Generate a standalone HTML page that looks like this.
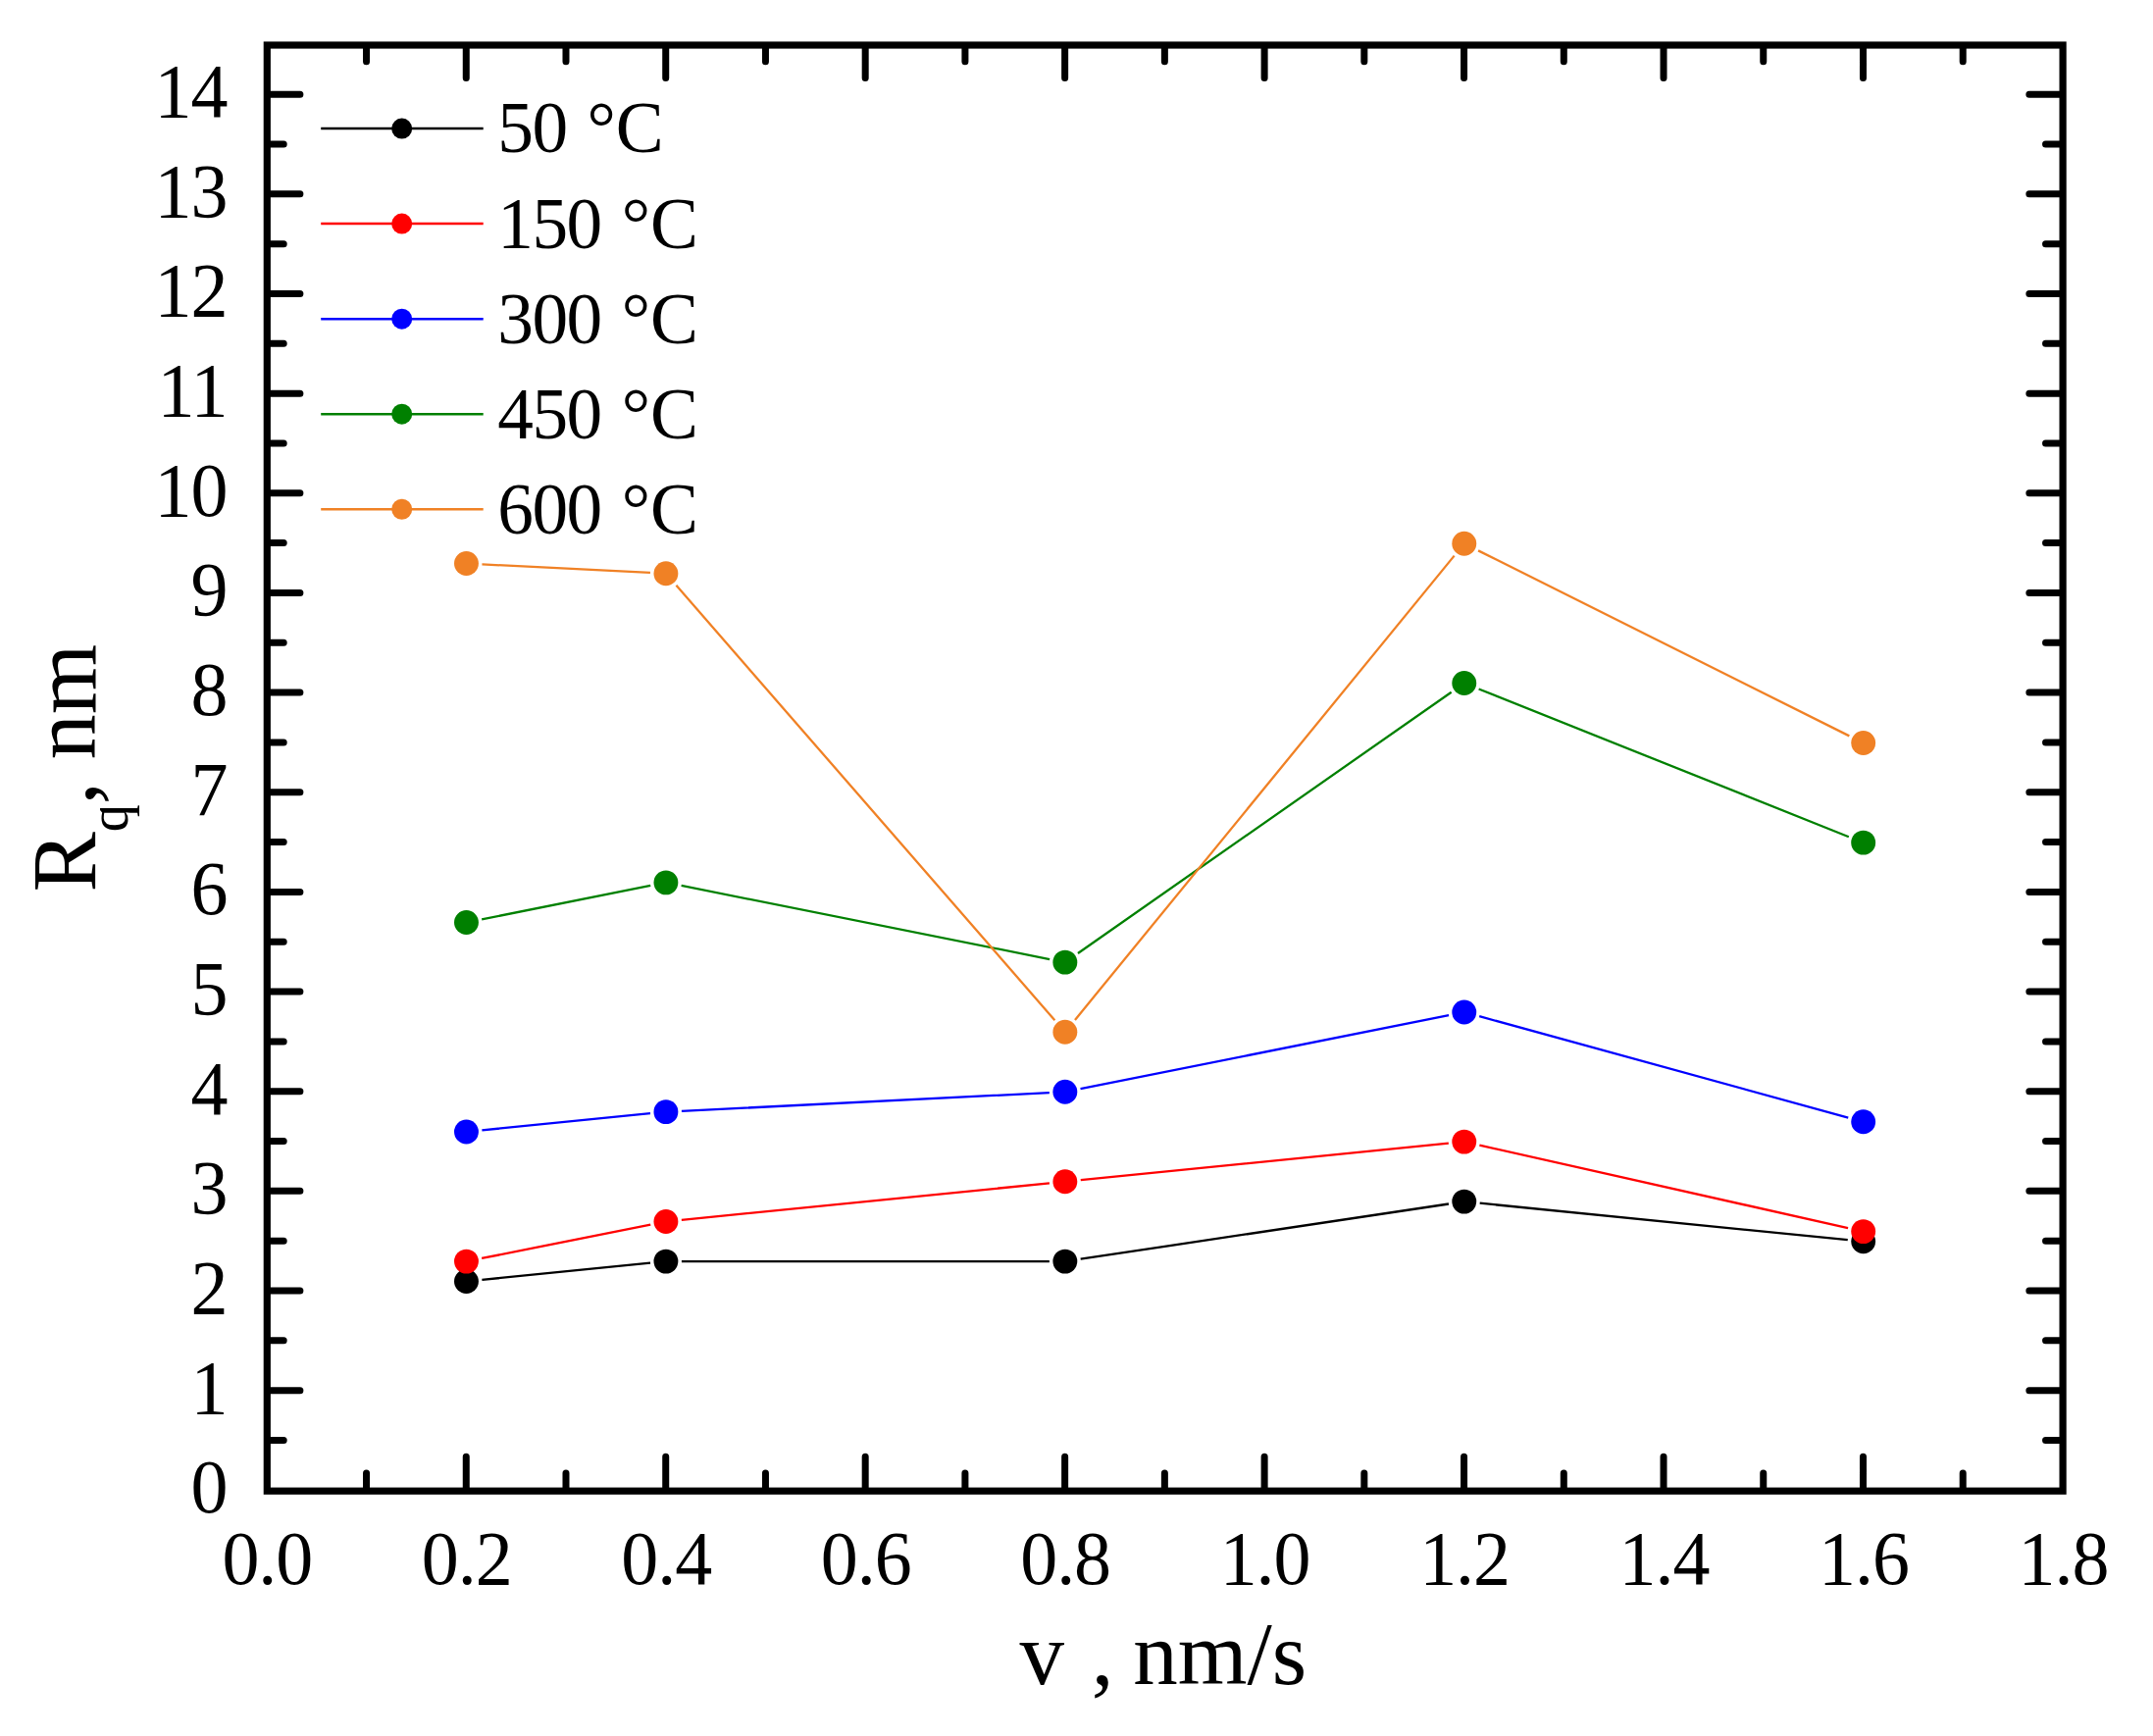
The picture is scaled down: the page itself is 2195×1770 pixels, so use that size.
<!DOCTYPE html>
<html><head><meta charset="utf-8"><title>Rq vs v</title>
<style>html,body{margin:0;padding:0;background:#fff}svg{display:block}</style></head>
<body>
<svg width="2195" height="1770" viewBox="0 0 2195 1770" font-family='"Liberation Serif","Times New Roman",serif' fill="#000">
<rect x="0" y="0" width="2195" height="1770" fill="#fff"/>
<path d="M373.53 1518.20V1501.90M373.53 48.00V62.77M475.26 1518.20V1485.20M475.26 48.00V79.47M576.99 1518.20V1501.90M576.99 48.00V62.77M678.72 1518.20V1485.20M678.72 48.00V79.47M780.45 1518.20V1501.90M780.45 48.00V62.77M882.18 1518.20V1485.20M882.18 48.00V79.47M983.91 1518.20V1501.90M983.91 48.00V62.77M1085.64 1518.20V1485.20M1085.64 48.00V79.47M1187.37 1518.20V1501.90M1187.37 48.00V62.77M1289.10 1518.20V1485.20M1289.10 48.00V79.47M1390.83 1518.20V1501.90M1390.83 48.00V62.77M1492.56 1518.20V1485.20M1492.56 48.00V79.47M1594.29 1518.20V1501.90M1594.29 48.00V62.77M1696.02 1518.20V1485.20M1696.02 48.00V79.47M1797.75 1518.20V1501.90M1797.75 48.00V62.77M1899.48 1518.20V1485.20M1899.48 48.00V79.47M2001.21 1518.20V1501.90M2001.21 48.00V62.77M274.30 1468.47H289.20M2101.10 1468.47H2085.54M274.30 1417.65H305.90M2101.10 1417.65H2068.84M274.30 1366.82H289.20M2101.10 1366.82H2085.54M274.30 1316.00H305.90M2101.10 1316.00H2068.84M274.30 1265.17H289.20M2101.10 1265.17H2085.54M274.30 1214.35H305.90M2101.10 1214.35H2068.84M274.30 1163.52H289.20M2101.10 1163.52H2085.54M274.30 1112.70H305.90M2101.10 1112.70H2068.84M274.30 1061.88H289.20M2101.10 1061.88H2085.54M274.30 1011.05H305.90M2101.10 1011.05H2068.84M274.30 960.22H289.20M2101.10 960.22H2085.54M274.30 909.40H305.90M2101.10 909.40H2068.84M274.30 858.57H289.20M2101.10 858.57H2085.54M274.30 807.75H305.90M2101.10 807.75H2068.84M274.30 756.92H289.20M2101.10 756.92H2085.54M274.30 706.10H305.90M2101.10 706.10H2068.84M274.30 655.27H289.20M2101.10 655.27H2085.54M274.30 604.45H305.90M2101.10 604.45H2068.84M274.30 553.62H289.20M2101.10 553.62H2085.54M274.30 502.80H305.90M2101.10 502.80H2068.84M274.30 451.97H289.20M2101.10 451.97H2085.54M274.30 401.15H305.90M2101.10 401.15H2068.84M274.30 350.32H289.20M2101.10 350.32H2085.54M274.30 299.50H305.90M2101.10 299.50H2068.84M274.30 248.67H289.20M2101.10 248.67H2085.54M274.30 197.85H305.90M2101.10 197.85H2068.84M274.30 147.02H289.20M2101.10 147.02H2085.54M274.30 96.20H305.90M2101.10 96.20H2068.84" stroke="#000" stroke-width="7.0" stroke-linecap="round" fill="none"/>
<rect x="272.30" y="46.00" width="1830.80" height="1474.20" fill="none" stroke="#000" stroke-width="7.2"/>
<text transform="translate(272.30 1614.60) scale(1 1.04)" font-size="76" text-anchor="middle" letter-spacing="-1.05">0.0</text>
<text transform="translate(475.76 1614.60) scale(1 1.04)" font-size="76" text-anchor="middle" letter-spacing="-1.05">0.2</text>
<text transform="translate(679.22 1614.60) scale(1 1.04)" font-size="76" text-anchor="middle" letter-spacing="-1.05">0.4</text>
<text transform="translate(882.68 1614.60) scale(1 1.04)" font-size="76" text-anchor="middle" letter-spacing="-1.05">0.6</text>
<text transform="translate(1086.14 1614.60) scale(1 1.04)" font-size="76" text-anchor="middle" letter-spacing="-1.05">0.8</text>
<text transform="translate(1289.60 1614.60) scale(1 1.04)" font-size="76" text-anchor="middle" letter-spacing="-1.05">1.0</text>
<text transform="translate(1493.06 1614.60) scale(1 1.04)" font-size="76" text-anchor="middle" letter-spacing="-1.05">1.2</text>
<text transform="translate(1696.52 1614.60) scale(1 1.04)" font-size="76" text-anchor="middle" letter-spacing="-1.05">1.4</text>
<text transform="translate(1899.98 1614.60) scale(1 1.04)" font-size="76" text-anchor="middle" letter-spacing="-1.05">1.6</text>
<text transform="translate(2103.44 1614.60) scale(1 1.04)" font-size="76" text-anchor="middle" letter-spacing="-1.05">1.8</text>
<text transform="translate(231.50 1542.20) scale(1 1.04)" font-size="76" text-anchor="end" letter-spacing="-1.05">0</text>
<text transform="translate(231.50 1440.55) scale(1 1.04)" font-size="76" text-anchor="end" letter-spacing="-1.05">1</text>
<text transform="translate(231.50 1338.90) scale(1 1.04)" font-size="76" text-anchor="end" letter-spacing="-1.05">2</text>
<text transform="translate(231.50 1237.25) scale(1 1.04)" font-size="76" text-anchor="end" letter-spacing="-1.05">3</text>
<text transform="translate(231.50 1135.60) scale(1 1.04)" font-size="76" text-anchor="end" letter-spacing="-1.05">4</text>
<text transform="translate(231.50 1033.95) scale(1 1.04)" font-size="76" text-anchor="end" letter-spacing="-1.05">5</text>
<text transform="translate(231.50 932.30) scale(1 1.04)" font-size="76" text-anchor="end" letter-spacing="-1.05">6</text>
<text transform="translate(231.50 830.65) scale(1 1.04)" font-size="76" text-anchor="end" letter-spacing="-1.05">7</text>
<text transform="translate(231.50 729.00) scale(1 1.04)" font-size="76" text-anchor="end" letter-spacing="-1.05">8</text>
<text transform="translate(231.50 627.35) scale(1 1.04)" font-size="76" text-anchor="end" letter-spacing="-1.05">9</text>
<text transform="translate(231.50 525.70) scale(1 1.04)" font-size="76" text-anchor="end" letter-spacing="-1.05">10</text>
<text transform="translate(231.50 424.05) scale(1 1.04)" font-size="76" text-anchor="end" letter-spacing="-1.05">11</text>
<text transform="translate(231.50 322.40) scale(1 1.04)" font-size="76" text-anchor="end" letter-spacing="-1.05">12</text>
<text transform="translate(231.50 220.75) scale(1 1.04)" font-size="76" text-anchor="end" letter-spacing="-1.05">13</text>
<text transform="translate(231.50 119.10) scale(1 1.04)" font-size="76" text-anchor="end" letter-spacing="-1.05">14</text>
<text transform="translate(1185.80 1716.60) scale(1 1.01)" font-size="91" text-anchor="middle">v<tspan dx="5"> ,</tspan><tspan dx="-3"> nm/s</tspan></text>
<text transform="translate(97.20 909.50) rotate(-90) scale(1 1.01)" font-size="92" text-anchor="start">R<tspan font-size="56" dy="32.3">q</tspan><tspan dy="-32.3">, nm</tspan></text>
<path d="M491.38 1304.84L663.00 1287.70M694.92 1286.10L1069.84 1286.10M1101.66 1283.73L1476.94 1227.49M1508.68 1226.71L1883.76 1264.18" stroke="#000000" stroke-width="2.3" fill="none"/>
<circle cx="475.46" cy="1306.43" r="12.45" fill="#000000"/>
<circle cx="678.92" cy="1286.10" r="12.45" fill="#000000"/>
<circle cx="1085.84" cy="1286.10" r="12.45" fill="#000000"/>
<circle cx="1492.76" cy="1225.11" r="12.45" fill="#000000"/>
<circle cx="1899.68" cy="1265.77" r="12.45" fill="#000000"/>
<path d="M491.15 1282.97L663.23 1248.58M694.84 1243.85L1069.92 1206.38M1101.76 1203.19L1476.84 1165.72M1508.37 1167.63L1884.07 1252.10" stroke="#ff0000" stroke-width="2.3" fill="none"/>
<circle cx="475.46" cy="1286.10" r="12.45" fill="#ff0000"/>
<circle cx="678.92" cy="1245.44" r="12.45" fill="#ff0000"/>
<circle cx="1085.84" cy="1204.78" r="12.45" fill="#ff0000"/>
<circle cx="1492.76" cy="1164.12" r="12.45" fill="#ff0000"/>
<circle cx="1899.68" cy="1255.61" r="12.45" fill="#ff0000"/>
<path d="M491.38 1152.37L663.00 1135.22M694.90 1132.83L1069.86 1114.10M1101.53 1110.16L1477.07 1035.12M1508.19 1036.22L1884.25 1139.56" stroke="#0000ff" stroke-width="2.3" fill="none"/>
<circle cx="475.46" cy="1153.96" r="12.45" fill="#0000ff"/>
<circle cx="678.92" cy="1133.63" r="12.45" fill="#0000ff"/>
<circle cx="1085.84" cy="1113.30" r="12.45" fill="#0000ff"/>
<circle cx="1492.76" cy="1031.98" r="12.45" fill="#0000ff"/>
<circle cx="1899.68" cy="1143.79" r="12.45" fill="#0000ff"/>
<path d="M491.15 937.36L663.23 902.97M694.61 902.97L1070.15 978.02M1098.95 971.98L1479.65 705.71M1507.62 702.47L1884.82 853.24" stroke="#008000" stroke-width="2.3" fill="none"/>
<circle cx="475.46" cy="940.49" r="12.45" fill="#008000"/>
<circle cx="678.92" cy="899.83" r="12.45" fill="#008000"/>
<circle cx="1085.84" cy="981.15" r="12.45" fill="#008000"/>
<circle cx="1492.76" cy="696.53" r="12.45" fill="#008000"/>
<circle cx="1899.68" cy="859.17" r="12.45" fill="#008000"/>
<path d="M491.44 575.35L662.94 583.92M689.42 596.79L1075.34 1040.24M1095.96 1039.92L1482.64 566.62M1507.07 561.38L1885.37 750.37" stroke="#f08125" stroke-width="2.3" fill="none"/>
<circle cx="475.46" cy="574.55" r="12.45" fill="#f08125"/>
<circle cx="678.92" cy="584.72" r="12.45" fill="#f08125"/>
<circle cx="1085.84" cy="1052.31" r="12.45" fill="#f08125"/>
<circle cx="1492.76" cy="554.22" r="12.45" fill="#f08125"/>
<circle cx="1899.68" cy="757.52" r="12.45" fill="#f08125"/>
<path d="M327.2 131.05H492.7" stroke="#000000" stroke-width="2.5" fill="none"/>
<circle cx="409.7" cy="131.05" r="10.5" fill="#000000"/>
<text transform="translate(507.3 155.45) scale(1 1.0)" font-size="73.3"><tspan letter-spacing="-1.5">50</tspan> <tspan x="91.25">°C</tspan></text>
<path d="M327.2 228.10H492.7" stroke="#ff0000" stroke-width="2.5" fill="none"/>
<circle cx="409.7" cy="228.10" r="10.5" fill="#ff0000"/>
<text transform="translate(507.3 252.50) scale(1 1.0)" font-size="73.3"><tspan letter-spacing="-1.5">150</tspan> <tspan x="126.40">°C</tspan></text>
<path d="M327.2 325.15H492.7" stroke="#0000ff" stroke-width="2.5" fill="none"/>
<circle cx="409.7" cy="325.15" r="10.5" fill="#0000ff"/>
<text transform="translate(507.3 349.55) scale(1 1.0)" font-size="73.3"><tspan letter-spacing="-1.5">300</tspan> <tspan x="126.40">°C</tspan></text>
<path d="M327.2 422.20H492.7" stroke="#008000" stroke-width="2.5" fill="none"/>
<circle cx="409.7" cy="422.20" r="10.5" fill="#008000"/>
<text transform="translate(507.3 446.60) scale(1 1.0)" font-size="73.3"><tspan letter-spacing="-1.5">450</tspan> <tspan x="126.40">°C</tspan></text>
<path d="M327.2 519.25H492.7" stroke="#f08125" stroke-width="2.5" fill="none"/>
<circle cx="409.7" cy="519.25" r="10.5" fill="#f08125"/>
<text transform="translate(507.3 543.65) scale(1 1.0)" font-size="73.3"><tspan letter-spacing="-1.5">600</tspan> <tspan x="126.40">°C</tspan></text>
</svg>
</body></html>
